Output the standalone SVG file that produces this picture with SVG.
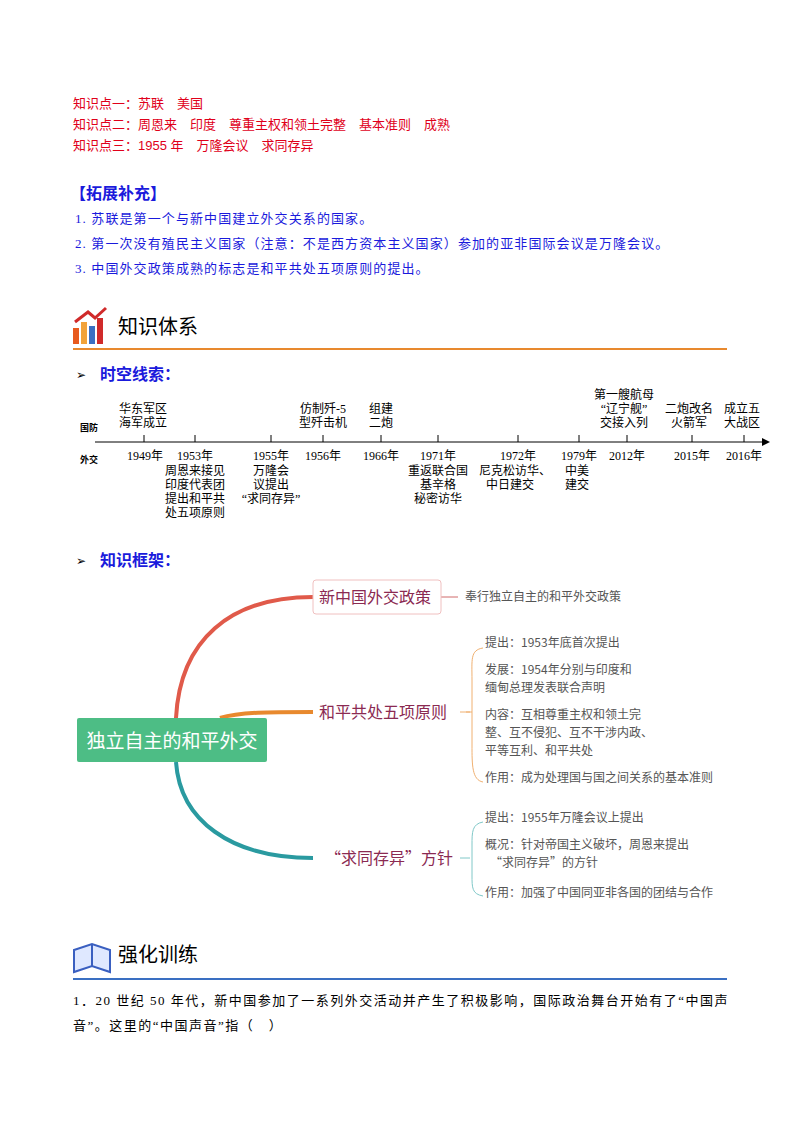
<svg xmlns="http://www.w3.org/2000/svg" width="800" height="1132" viewBox="0 0 800 1132">
<style>
text{font-family:"Liberation Serif","Noto Sans CJK SC",serif}
.r{fill:#e0001a;font-size:13px;font-family:"Liberation Sans","Noto Sans CJK SC",sans-serif}
.b{fill:#1a1adc;font-size:13px;letter-spacing:1.1px}
.h{font-family:"Noto Sans CJK SC",sans-serif;font-size:20px;fill:#000}
.s{fill:#1a1adc;font-size:16px;font-weight:bold;font-family:"Noto Sans CJK SC",sans-serif}
.t{font-size:12px;fill:#000;text-anchor:middle}
.m{font-family:"Noto Sans CJK SC",sans-serif;font-size:12px;fill:#555}
.n{font-family:"Noto Sans CJK SC",sans-serif;font-size:16px;fill:#8b2a52}
</style>
<rect width="800" height="1132" fill="#fff"/>
<g id="points">
<text class="r" x="73" y="108">知识点一：苏联　美国</text>
<text class="r" x="73" y="129">知识点二：周恩来　印度　尊重主权和领土完整　基本准则　成熟</text>
<text class="r" x="73" y="150">知识点三：1955 年　万隆会议　求同存异</text>
<text x="70" y="199" style="fill:#1a1adc;font-size:16px;font-weight:bold;font-family:'Noto Sans CJK SC',sans-serif">【拓展补充】</text>
<text class="b" x="75" y="223">1.  苏联是第一个与新中国建立外交关系的国家。</text>
<text class="b" x="75" y="248">2.  第一次没有殖民主义国家（注意：不是西方资本主义国家）参加的亚非国际会议是万隆会议。</text>
<text class="b" x="75" y="273">3.  中国外交政策成熟的标志是和平共处五项原则的提出。</text>
</g>
<g id="hdr1">
<rect x="73" y="328" width="6" height="16" fill="#e85a1e"/><rect x="81" y="322" width="6" height="22" fill="#f2a33a"/><rect x="89" y="326" width="6" height="18" fill="#3a6fc2"/><rect x="97" y="318" width="6" height="26" fill="#d02a2a"/>
<path d="M75 322 L88 312 L95 318 L106 308" stroke="#d02a2a" stroke-width="3" fill="none"/>
<text class="h" x="118" y="334">知识体系</text>
<line x1="73" y1="349" x2="727" y2="349" stroke="#e8892e" stroke-width="2"/>
<text x="76" y="379" style="font-size:12px">➢</text><text class="s" x="100" y="380">时空线索：</text>
</g>
<g id="timeline">
<line x1="95" y1="442" x2="764" y2="442" stroke="#000"/>
<path d="M770 442 L762 438 L762 446 Z" fill="#000"/>
<g stroke="#000"><line x1="144" y1="442" x2="144" y2="435"/><line x1="195" y1="442" x2="195" y2="435"/><line x1="271" y1="442" x2="271" y2="435"/><line x1="323" y1="442" x2="323" y2="435"/><line x1="381" y1="442" x2="381" y2="435"/><line x1="438" y1="442" x2="438" y2="435"/><line x1="518" y1="442" x2="518" y2="435"/><line x1="579" y1="442" x2="579" y2="435"/><line x1="627" y1="442" x2="627" y2="435"/><line x1="692" y1="442" x2="692" y2="435"/><line x1="744" y1="442" x2="744" y2="435"/></g>
<text x="80" y="431" style="font-size:9px;font-weight:bold">国防</text>
<text x="80" y="463" style="font-size:9px;font-weight:bold">外交</text>
<text class="t" x="143" y="413">华东军区</text><text class="t" x="143" y="427">海军成立</text>
<text class="t" x="323" y="413">仿制歼-5</text><text class="t" x="323" y="427">型歼击机</text>
<text class="t" x="381" y="413">组建</text><text class="t" x="381" y="427">二炮</text>
<text class="t" x="624" y="399">第一艘航母</text><text class="t" x="624" y="413">“辽宁舰”</text><text class="t" x="624" y="427">交接入列</text>
<text class="t" x="689" y="413">二炮改名</text><text class="t" x="689" y="427">火箭军</text>
<text class="t" x="742" y="413">成立五</text><text class="t" x="742" y="427">大战区</text>
<text class="t" x="145" y="460">1949年</text><text class="t" x="195" y="460">1953年</text><text class="t" x="271" y="460">1955年</text><text class="t" x="323" y="460">1956年</text><text class="t" x="381" y="460">1966年</text><text class="t" x="438" y="460">1971年</text><text class="t" x="518" y="460">1972年</text><text class="t" x="579" y="460">1979年</text><text class="t" x="627" y="460">2012年</text><text class="t" x="692" y="460">2015年</text><text class="t" x="744" y="460">2016年</text>
<text class="t" x="195" y="475">周恩来接见</text><text class="t" x="195" y="489">印度代表团</text><text class="t" x="195" y="503">提出和平共</text><text class="t" x="195" y="517">处五项原则</text>
<text class="t" x="271" y="475">万隆会</text><text class="t" x="271" y="489">议提出</text><text class="t" x="271" y="503">“求同存异”</text>
<text class="t" x="438" y="475">重返联合国</text><text class="t" x="438" y="489">基辛格</text><text class="t" x="438" y="503">秘密访华</text>
<text class="t" x="515" y="475">尼克松访华、</text><text class="t" x="510" y="489">中日建交</text>
<text class="t" x="577" y="475">中美</text><text class="t" x="577" y="489">建交</text>
</g>
<text x="76" y="565" style="font-size:12px">➢</text><text class="s" x="100" y="566">知识框架：</text>
<g id="connectors" fill="none">
<path d="M176 718 C180 640 230 597 313 597" stroke="#e05a4a" stroke-width="4"/>
<path d="M220 718 C240 712 270 712 313 712" stroke="#e8892e" stroke-width="4"/>
<path d="M176 762 C180 820 230 858 313 858" stroke="#2a9aa0" stroke-width="4"/>
<line x1="441" y1="597" x2="458" y2="597" stroke="#d06a6a"/>
<line x1="460" y1="712" x2="470" y2="712" stroke="#f0b070"/>
<path d="M483 648 C470 650 472 660 472 680 L472 745 C472 765 472 780 483 782 M472 712 L466 712" stroke="#f0b070"/>
<line x1="460" y1="858" x2="470" y2="858" stroke="#80c8c8"/>
<path d="M483 822 C472 824 472 832 472 845 L472 875 C472 888 472 894 483 896" stroke="#80c8c8"/>
</g>
<g id="main"><rect x="77" y="718" width="190" height="44" rx="2" fill="#4dbd85"/><text x="172" y="748" style="font-family:'Noto Sans CJK SC',sans-serif;font-size:19px;fill:#fff;text-anchor:middle">独立自主的和平外交</text></g>
<g id="n1"><rect x="313" y="580" width="128" height="34" rx="3" fill="#fff" stroke="#f0c0c0"/><text class="n" x="319" y="603">新中国外交政策</text><text class="m" x="465" y="601">奉行独立自主的和平外交政策</text></g>
<g id="n2"><text class="n" x="319" y="718">和平共处五项原则</text>
<text class="m" x="485" y="647">提出：1953年底首次提出</text>
<text class="m" x="485" y="674">发展：1954年分别与印度和</text><text class="m" x="485" y="692">缅甸总理发表联合声明</text>
<text class="m" x="485" y="719">内容：互相尊重主权和领土完</text><text class="m" x="485" y="737">整、互不侵犯、互不干涉内政、</text><text class="m" x="485" y="755">平等互利、和平共处</text>
<text class="m" x="485" y="782">作用：成为处理国与国之间关系的基本准则</text></g>
<g id="n3"><text class="n" x="325" y="864">“求同存异”方针</text>
<text class="m" x="485" y="822">提出：1955年万隆会议上提出</text>
<text class="m" x="485" y="849">概况：针对帝国主义破坏，周恩来提出</text><text class="m" x="490" y="867">“求同存异”的方针</text>
<text class="m" x="485" y="897">作用：加强了中国同亚非各国的团结与合作</text></g>
<g id="hdr2">
<path d="M74 950 L92 944 L110 950 L110 972 L92 966 L74 972 Z" fill="#dfe8ff" stroke="#3a5fc0" stroke-width="2"/>
<line x1="92" y1="944" x2="92" y2="966" stroke="#3a5fc0" stroke-width="2"/>
<text class="h" x="118" y="962">强化训练</text>
<line x1="73" y1="979" x2="727" y2="979" stroke="#3a6fc2" stroke-width="2"/>
</g>
<text x="73" y="1005" style="font-size:13px;letter-spacing:1.5px">1．20 世纪 50 年代，新中国参加了一系列外交活动并产生了积极影响，国际政治舞台开始有了“中国声</text>
<text x="73" y="1030" style="font-size:13px;letter-spacing:1.5px">音”。这里的“中国声音”指（　）</text>
</svg>
